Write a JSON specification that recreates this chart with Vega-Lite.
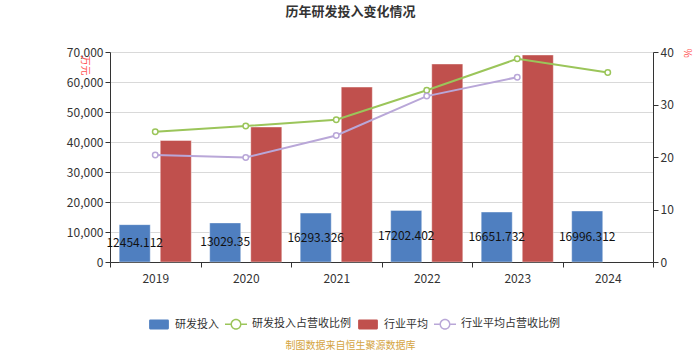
{
  "$schema": "https://vega.github.io/schema/vega-lite/v6.json",
  "autosize": "none",
  "width": 543,
  "height": 210,
  "padding": {"left": 110, "top": 52, "right": 47, "bottom": 88},
  "background": "white",
  "config": {
    "font": "Noto Sans CJK SC",
    "view": {"stroke": null}
  },
  "title": {
    "text": "历年研发投入变化情况",
    "fontSize": 13,
    "fontWeight": "bold",
    "color": "#333333",
    "dx": -31,
    "offset": 27
  },
  "datasets": {
    "bars": [
      {"year": "2019", "series": "研发投入", "value": 12454.112},
      {"year": "2020", "series": "研发投入", "value": 13029.35},
      {"year": "2021", "series": "研发投入", "value": 16293.326},
      {"year": "2022", "series": "研发投入", "value": 17202.402},
      {"year": "2023", "series": "研发投入", "value": 16651.732},
      {"year": "2024", "series": "研发投入", "value": 16996.312},
      {"year": "2019", "series": "行业平均", "value": 40500},
      {"year": "2020", "series": "行业平均", "value": 45000},
      {"year": "2021", "series": "行业平均", "value": 58300},
      {"year": "2022", "series": "行业平均", "value": 66000},
      {"year": "2023", "series": "行业平均", "value": 69000}
    ],
    "ratios": [
      {"year": "2019", "series": "研发投入占营收比例", "value": 24.8},
      {"year": "2020", "series": "研发投入占营收比例", "value": 25.9},
      {"year": "2021", "series": "研发投入占营收比例", "value": 27.1},
      {"year": "2022", "series": "研发投入占营收比例", "value": 32.7},
      {"year": "2023", "series": "研发投入占营收比例", "value": 38.7},
      {"year": "2024", "series": "研发投入占营收比例", "value": 36.1},
      {"year": "2019", "series": "行业平均占营收比例", "value": 20.4},
      {"year": "2020", "series": "行业平均占营收比例", "value": 19.9},
      {"year": "2021", "series": "行业平均占营收比例", "value": 24.1},
      {"year": "2022", "series": "行业平均占营收比例", "value": 31.6},
      {"year": "2023", "series": "行业平均占营收比例", "value": 35.2}
    ]
  },
  "encoding": {
    "x": {
      "field": "year",
      "type": "nominal",
      "scale": {"domain": ["2019", "2020", "2021", "2022", "2023", "2024"], "paddingInner": 0, "paddingOuter": 0},
      "axis": {
        "labelAngle": 0,
        "labelFontSize": 12,
        "labelColor": "#333333",
        "labelPadding": 6,
        "domainColor": "#333333",
        "tickColor": "#333333",
        "tickBand": "extent",
        "tickSize": 5,
        "title": "制图数据来自恒生聚源数据库",
        "titleFontSize": 10,
        "titleFontWeight": "normal",
        "titleColor": "#d4a442",
        "titleX": 240,
        "titleY": 86,
        "titleBaseline": "alphabetic"
      }
    }
  },
  "layer": [
    {
      "layer": [
        {
          "data": {"name": "bars"},
          "mark": {"type": "bar", "stroke": "white", "strokeOpacity": 0.4, "strokeWidth": 1},
          "encoding": {
            "xOffset": {
              "field": "series",
              "scale": {"domain": ["研发投入", "行业平均"], "paddingInner": 0.244, "paddingOuter": 0.224}
            },
            "y": {
              "field": "value",
              "type": "quantitative",
              "scale": {"domain": [0, 70000], "nice": false},
              "axis": {
                "values": [0, 10000, 20000, 30000, 40000, 50000, 60000, 70000],
                "labelOverlap": false,
                "format": ",d",
                "labelFontSize": 12,
                "labelColor": "#333333",
                "domainColor": "#333333",
                "tickColor": "#333333",
                "tickSize": 5,
                "gridColor": "#d9d9d9",
                "title": "万元",
                "titleFontSize": 10,
                "titleFontWeight": "normal",
                "titleColor": "#ff5555",
                "titleAngle": 90,
                "titleAlign": "left",
                "titleBaseline": "middle",
                "titleX": -26,
                "titleY": 3
              }
            },
            "color": {
              "field": "series",
              "type": "nominal",
              "scale": {
                "domain": ["研发投入", "研发投入占营收比例", "行业平均", "行业平均占营收比例"],
                "range": ["#4f7fc0", "#9bc55a", "#c0504d", "#b9a7d8"]
              },
              "legend": {
                "orient": "none",
                "direction": "horizontal",
                "legendX": 38,
                "legendY": 261,
                "title": null,
                "labelFontSize": 11,
                "labelColor": "#333333",
                "symbolSize": 484,
                "symbolOpacity": 1,
                "columnPadding": 6,
                "labelOffset": 5,
                "encoding": {
                  "symbols": {
                    "shape": {"value": {"expr": "(datum.value == '研发投入' || datum.value == '行业平均') ? 'M-0.8,-0.45 L0.8,-0.45 Q0.9,-0.45 0.9,-0.35 L0.9,0.35 Q0.9,0.45 0.8,0.45 L-0.8,0.45 Q-0.9,0.45 -0.9,0.35 L-0.9,-0.35 Q-0.9,-0.45 -0.8,-0.45 Z' : 'M-1,-0.07 L-0.5,-0.07 L-0.5,0.07 L-1,0.07 Z M0.5,-0.07 L1,-0.07 L1,0.07 L0.5,0.07 Z M0.5,0 A0.5,0.5 0 1 1 -0.5,0 A0.5,0.5 0 1 1 0.5,0 Z M0.37,0 A0.37,0.37 0 1 0 -0.37,0 A0.37,0.37 0 1 0 0.37,0 Z'"}},
                    "fill": {"value": {"expr": "datum.value == '研发投入' ? '#4f7fc0' : datum.value == '行业平均' ? '#c0504d' : datum.value == '研发投入占营收比例' ? '#9bc55a' : '#b9a7d8'"}},
                    "stroke": {"value": "transparent"},
                    "strokeWidth": {"value": 0}
                  }
                }
              }
            }
          }
        },
        {
          "data": {"name": "bars"},
          "transform": [{"filter": "datum.series == '研发投入'"}],
          "mark": {"type": "text", "fontSize": 12, "color": "#111111", "baseline": "middle"},
          "encoding": {
            "xOffset": {"datum": "研发投入"},
            "y": {
              "field": "value",
              "type": "quantitative",
              "stack": "zero",
              "bandPosition": 0.5,
              "axis": {
                "values": [0, 10000, 20000, 30000, 40000, 50000, 60000, 70000],
                "labelOverlap": false,
                "format": ",d",
                "labelFontSize": 12,
                "labelColor": "#333333",
                "domainColor": "#333333",
                "tickColor": "#333333",
                "tickSize": 5,
                "gridColor": "#d9d9d9",
                "title": "万元",
                "titleFontSize": 10,
                "titleFontWeight": "normal",
                "titleColor": "#ff5555",
                "titleAngle": 90,
                "titleAlign": "left",
                "titleBaseline": "middle",
                "titleX": -26,
                "titleY": 3
              }
            },
            "text": {"field": "value", "type": "nominal"}
          }
        }
      ]
    },
    {
      "data": {"name": "ratios"},
      "mark": {"type": "line", "strokeWidth": 2, "point": {"filled": true, "fill": "white", "size": 30, "strokeWidth": 1.5}},
      "encoding": {
        "y": {
          "field": "value",
          "type": "quantitative",
          "scale": {"domain": [0, 40], "nice": false},
          "axis": {
            "orient": "right",
            "values": [0, 10, 20, 30, 40],
            "grid": false,
            "labelFontSize": 12,
            "labelColor": "#333333",
            "domainColor": "#333333",
            "tickColor": "#333333",
            "tickSize": 5,
            "title": "%",
            "titleFontSize": 10,
            "titleFontWeight": "normal",
            "titleColor": "#ff5555",
            "titleAngle": 90,
            "titleAlign": "left",
            "titleBaseline": "middle",
            "titleX": 33,
            "titleY": -4
          }
        },
        "color": {"field": "series", "type": "nominal"},
        "stroke": {"field": "series", "type": "nominal", "scale": {
                "domain": ["研发投入", "研发投入占营收比例", "行业平均", "行业平均占营收比例"],
                "range": ["#4f7fc0", "#9bc55a", "#c0504d", "#b9a7d8"]
              }, "legend": null}
      }
    }
  ],
  "resolve": {"scale": {"y": "independent"}}
}
